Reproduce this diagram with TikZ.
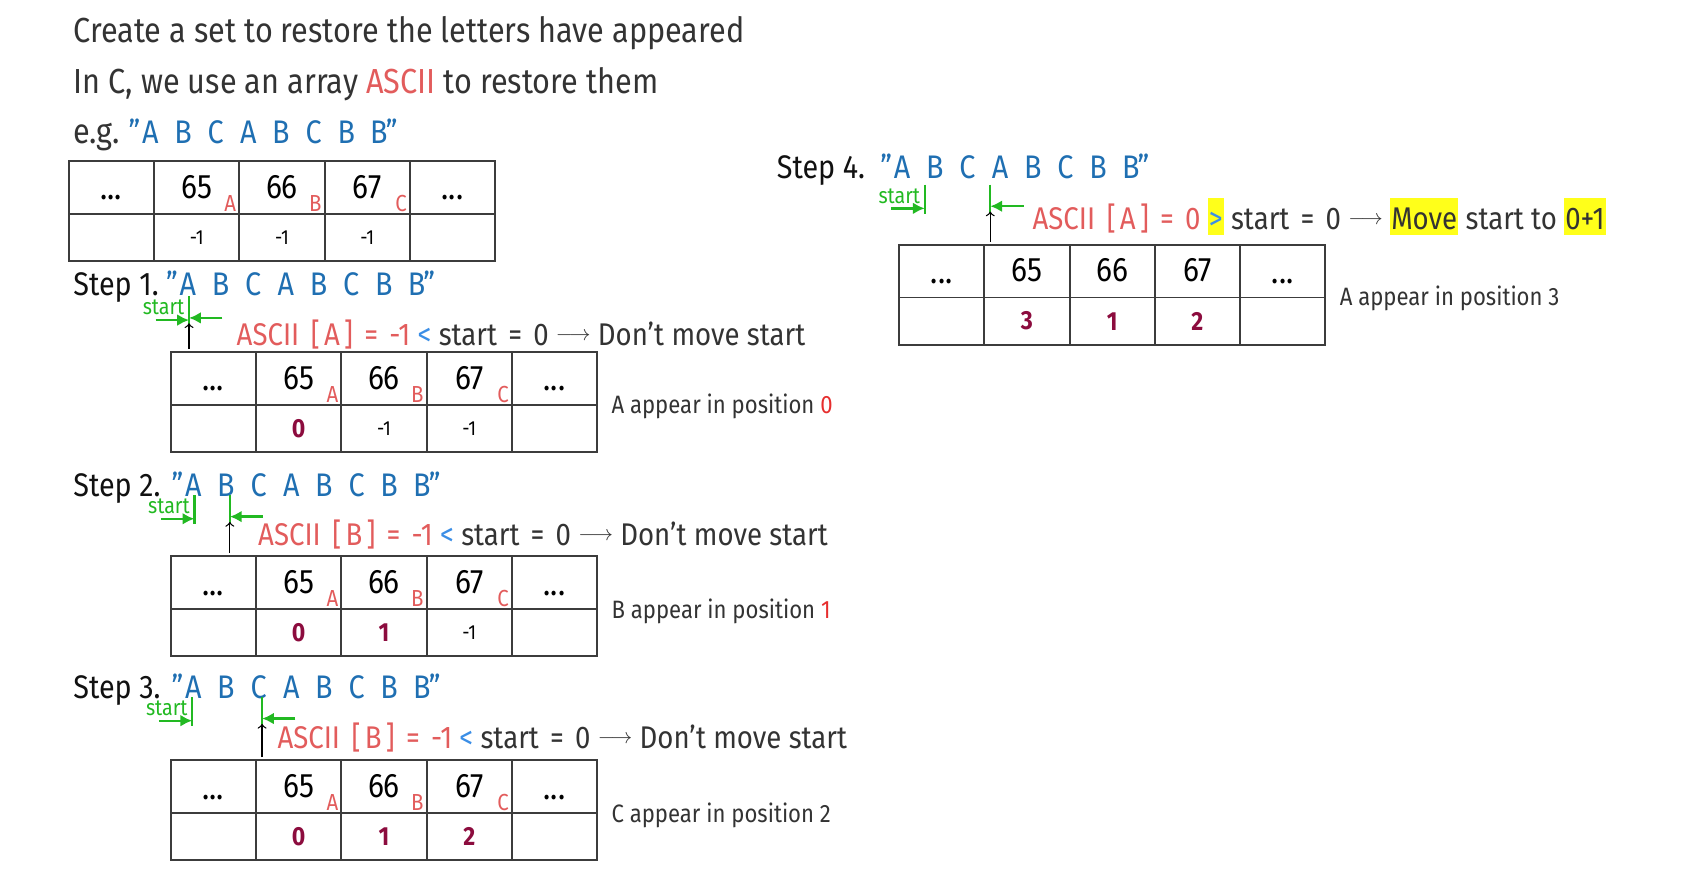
\documentclass[tikz,border=0pt]{standalone}
\usepackage{fontspec}
\setmainfont{Fira Sans}[FakeStretch=0.88]
\usepackage{tikz}
\usetikzlibrary{arrows.meta}
\tikzset{>={Latex[length=5.5pt,width=5.5pt]}}
\definecolor{txt}{HTML}{333333}
\definecolor{stepblack}{HTML}{111111}
\definecolor{asciired}{HTML}{E25C5C}
\definecolor{seqblue}{HTML}{1F6FB2}
\definecolor{ltblue}{HTML}{3B8EE6}
\definecolor{seenred}{HTML}{8C0C3E}
\definecolor{startgreen}{HTML}{22B922}
\definecolor{posred}{HTML}{E62E2E}
\definecolor{hlyellow}{HTML}{FFFF1A}
\definecolor{linegray}{HTML}{3C3C3C}
\tikzset{
    body/.style={font=\fontsize{15.2}{18}\selectfont,text=txt,inner sep=0pt,anchor=base west},
    headline/.style={body,font=\fontsize{16.2}{19}\selectfont},
    cmp/.style={body,font=\fontsize{14.6}{17}\selectfont},
    steplbl/.style={body,text=stepblack,text depth=0pt},
    seq/.style={font=\fontsize{15.2}{18}\selectfont,text=seqblue,inner sep=0pt},
    cellnum/.style={font=\fontsize{15.8}{18}\selectfont,text=black,inner sep=0pt},
    cellval/.style={text=black,inner sep=0pt},
    sub/.style={font=\fontsize{10.8}{12}\selectfont,text=asciired,inner sep=0pt,anchor=base east},
    note/.style={font=\fontsize{11.7}{13}\selectfont,text=txt,inner sep=0pt,anchor=base west},
    startlbl/.style={font=\fontsize{10.4}{12}\selectfont,text=startgreen,inner sep=0pt,anchor=base east},
    marker/.style={startgreen,line width=1.1pt},
    cellline/.style={linegray,line width=0.9pt},
}
\newcommand\seen[1]{{\fontsize{12.2}{14}\selectfont\bfseries\color{seenred}#1}}
\newcommand\minusone{{\fontsize{9.5}{11}\selectfont -1}}
\newcommand\hl[1]{{\setlength\fboxsep{0pt}\colorbox{hlyellow}{\rule[-2.5pt]{0pt}{17.5pt}\kern0.5pt#1\kern0.5pt}}}
\newcommand\eq{\kern1.8pt\ =\ \kern1.8pt}
\newcommand\thento{\ \raisebox{2.4pt}{\fontsize{10}{12}\selectfont$\longrightarrow$}\ }
\newcommand\asciiof[2]{\textcolor{asciired}{ASCII\kern2pt\ [\kern2pt#1\kern2pt]\eq#2}}
\newcommand\asciitable[6]{
    \foreach \k in {0,...,4} {
        \draw[cellline] (#1+\k*79.4,#2) rectangle ++(79.4,49);
        \draw[cellline] (#1+\k*79.4,#2+49) rectangle ++(79.4,44);
    }
    \node[cellnum,anchor=base] (#3-l)  at (#1+39.7,#2+36)  {...};
    \node[cellnum]             (#3-65) at (#1+119.1,#2+24) {65};
    \node[cellnum]             (#3-66) at (#1+198.5,#2+24) {66};
    \node[cellnum]             (#3-67) at (#1+277.9,#2+24) {67};
    \node[cellnum,anchor=base] (#3-r)  at (#1+357.3,#2+36)  {...};
    \node[cellval] (#3-a) at (#1+119.1,#2+71) {#4};
    \node[cellval] (#3-b) at (#1+198.5,#2+71) {#5};
    \node[cellval] (#3-c) at (#1+277.9,#2+71) {#6};
}
\newcommand\subs[3]{
    \node[sub] (#3-sa) at (#1+156.3,#2+47) {A};
    \node[sub] (#3-sb) at (#1+235.7,#2+47) {B};
    \node[sub] (#3-sc) at (#1+315.1,#2+47) {C};
}
\newcommand\letterseq[3]{
    \node[seq,anchor=base east] (#1-open) at (#2-9,#3) {”};
    \foreach \ch [count=\i] in {A,B,C,A,B,C,B,B}
        \node[seq,anchor=base] (#1-\i) at (#2+\i*30.4-30.4,#3) {\ch};
    \node[seq,anchor=base west] (#1-close) at (#2+7*30.4+6,#3) {”};
}
\newcommand\startmarker[5]{
    \coordinate (#1-st) at (#2,#4);
    \coordinate (#1-sb) at (#2,#4+27);
    \coordinate (#1-ct) at (#3,#4);
    \coordinate (#1-cb) at (#3,#4+27);
    \coordinate (#1-s0) at (#2-31,#4+22);
    \coordinate (#1-s1) at (#2,#4+22);
    \coordinate (#1-c0) at (#3+31,#4+20);
    \coordinate (#1-c1) at (#3,#4+20);
    \coordinate (#1-t0) at (#3,#5-3);
    \coordinate (#1-t1) at (#3,#4+25);
    \draw[marker] (#1-st) -- (#1-sb);
    \draw[marker] (#1-ct) -- (#1-cb);
    \draw[marker,->] (#1-s0) -- (#1-s1);
    \draw[marker,->] (#1-c0) -- (#1-c1);
    \draw[black,line width=0.6pt,-to] (#1-t0) -- (#1-t1);
    \node[startlbl] (#1-lbl) at (#2-4,#4+17) {start};
}

\begin{document}
\begin{tikzpicture}[x=0.5pt,y=-0.5pt]
    \useasboundingbox (0,0) rectangle (1567,831.5);
    \node[headline] (title) at (68,40) {Create a set to restore the letters have appeared};
    \node[headline] (array) at (68,87) {In C, we use an array \textcolor{asciired}{ASCII} to restore them};
    \node[headline] (eg)    at (68,134) {e.g.};
    \letterseq{eg}{140}{134}
    \asciitable{64}{150}{t0}{\minusone}{\minusone}{\minusone}
    \subs{64}{150}{t0}

    \node[steplbl] (step1) at (68,275) {Step 1.};
    \letterseq{s1}{175}{275}
    \startmarker{m1}{176}{176}{276}{328}
    \node[cmp] (cmp1) at (220,322) {\asciiof{A}{-1} \textcolor{ltblue}{<} start\eq 0\thento Don’t move start};
    \asciitable{159}{328}{t1}{\seen0}{\minusone}{\minusone}
    \subs{159}{328}{t1}
    \node[note] (pos1) at (569,385) {A appear in position \textcolor{posred}{0}};

    \node[steplbl] (step2) at (68,462) {Step 2.};
    \letterseq{s2}{180}{462}
    \startmarker{m2}{181}{214}{461}{518}
    \node[cmp] (cmp2) at (240,508) {\asciiof{B}{-1} \textcolor{ltblue}{<} start\eq 0\thento Don’t move start};
    \asciitable{159}{518}{t2}{\seen0}{\seen1}{\minusone}
    \subs{159}{518}{t2}
    \node[note] (pos2) at (569,576) {B appear in position \textcolor{posred}{1}};

    \node[steplbl] (step3) at (68,650) {Step 3.};
    \letterseq{s3}{180}{650}
    \startmarker{m3}{179}{244}{649}{708}
    \node[cmp] (cmp3) at (258,697) {\asciiof{B}{-1} \textcolor{ltblue}{<} start\eq 0\thento Don’t move start};
    \asciitable{159}{708}{t3}{\seen0}{\seen1}{\seen2}
    \subs{159}{708}{t3}
    \node[note] (pos3) at (569,766) {C appear in position 2};

    \node[steplbl] (step4) at (723,166) {Step 4.};
    \letterseq{s4}{840}{166}
    \startmarker{m4}{861}{922}{172}{228}
    \node[cmp] (cmp4) at (961,214) {\asciiof{A}{0} \hl{\textcolor{ltblue}{>}} start\eq 0\thento \hl{Move} start to \hl{0+1}};
    \asciitable{837}{228}{t4}{\seen3}{\seen1}{\seen2}
    \node[note] (pos4) at (1247,284) {A appear in position 3};
\end{tikzpicture}
\end{document}
